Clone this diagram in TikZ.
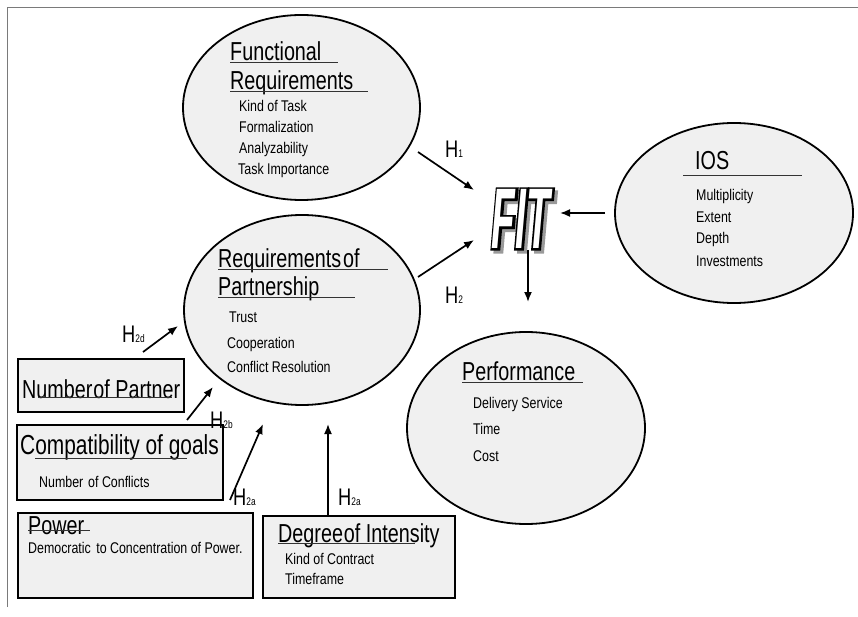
\documentclass[tikz,border=0pt]{standalone}
\usepackage{graphicx}
\usepackage{fontspec}
\setmainfont{Liberation Sans}[FakeStretch=0.8]
\newfontfamily\ttlfont{Liberation Sans}[FakeStretch=0.76]
\newfontfamily\fitfont{Liberation Sans}[FakeStretch=0.45]
\newfontfamily\fitboldfont{Liberation Sans}[FakeStretch=0.45,FakeBold=5]
\usetikzlibrary{arrows.meta,shapes.geometric,shadows}
\definecolor{fillgray}{HTML}{F0F0F0}
\definecolor{framegray}{HTML}{7A7A7A}
\definecolor{shadowgray}{HTML}{9A9A9A}
\newcommand{\hsub}[1]{{\fontsize{11}{11}\selectfont #1}}
\tikzset{
  ell/.style={ellipse, draw=black, line width=1.8pt, fill=fillgray, inner sep=0pt},
  boxst/.style={rectangle, draw=black, line width=1.7pt, fill=fillgray, inner sep=0pt,
    drop shadow={shadow xshift=1.3pt, shadow yshift=-1.3pt, fill=black!65, opacity=1}},
  ttl/.style={anchor=base west, inner sep=0pt, font=\ttlfont\fontsize{26}{26}\selectfont},
  itm/.style={anchor=base west, inner sep=0pt, font=\fontsize{15.5}{15.5}\selectfont},
  uline/.style={line width=0.9pt, draw=black!80},
  arr/.style={line width=1.7pt, -{Latex[length=10pt,width=8pt]}},
  hlab/.style={anchor=base west, inner sep=0pt, font=\ttlfont\fontsize{24}{24}\selectfont},
  fittext/.style={inner sep=0pt, font=\fitfont\bfseries\itshape\fontsize{86}{86}\selectfont},
  fitbold/.style={inner sep=0pt, font=\fitboldfont\bfseries\itshape\fontsize{86}{86}\selectfont}
}
\begin{document}
\begin{tikzpicture}[x=1pt,y=-1pt]
\useasboundingbox (0,0) rectangle (858,617);
% frame
\draw[framegray, line width=1pt] (7,607) -- (7,8) -- (858,8);

% ellipses
\node[ell, minimum width=237pt, minimum height=185pt] (fr) at (301.5,107.5) {};
\node[ell, minimum width=238pt, minimum height=180pt] (ios) at (734,213) {};
\node[ell, minimum width=236pt, minimum height=190pt] (rop) at (302,310) {};
\node[ell, minimum width=238pt, minimum height=192pt] (perf) at (526,428) {};

% boxes
\node[boxst, minimum width=166pt, minimum height=53pt] (np) at (101,385.5) {};
\node[boxst, minimum width=206pt, minimum height=75pt] (comp) at (120,462.5) {};
\node[boxst, minimum width=235pt, minimum height=85pt] (pow) at (135.5,555.5) {};
\node[boxst, minimum width=192pt, minimum height=82pt] (deg) at (359,557) {};

% Functional Requirements
\node[ttl] (frt1) at (230,61) {Functional};
\draw[uline] (230,62.5) -- (338,62.5);
\node[ttl] (frt2) at (230,89.5) {Requirements};
\draw[uline] (230,91.5) -- (368,91.5);
\node[itm] (fri1) at (239,112) {Kind of Task};
\node[itm] (fri2) at (239,133) {Formalization};
\node[itm] (fri3) at (239,154) {Analyzability};
\node[itm] (fri4) at (238,175) {Task Importance};

% IOS
\node[ttl] (iost) at (695,170) {IOS};
\draw[uline] (683,175) -- (802,175);
\node[itm] (iosi1) at (696,201) {Multiplicity};
\node[itm] (iosi2) at (696,223) {Extent};
\node[itm] (iosi3) at (696,244) {Depth};
\node[itm] (iosi4) at (696,267) {Investments};

% Requirements of Partnership
\node[ttl] (ropt1) at (218,267.5) {Requirements\kern2pt of};
\draw[uline] (218,269.5) -- (388,269.5);
\node[ttl] (ropt2) at (218,295.5) {Partnership};
\draw[uline] (218,297.5) -- (355,297.5);
\node[itm] (ropi1) at (229,322) {Trust};
\node[itm] (ropi2) at (227,348) {Cooperation};
\node[itm] (ropi3) at (227,372) {Conflict Resolution};

% Performance
\node[ttl] (perft) at (462,380) {Performance};
\draw[uline] (462,382) -- (583,382);
\node[itm] (perfi1) at (473,408) {Delivery Service};
\node[itm] (perfi2) at (473,434) {Time};
\node[itm] (perfi3) at (473,461) {Cost};

% Number of Partner
\node[ttl] (npt) at (22,398) {Number\kern1pt of Partner};
\draw[uline] (38,397.5) -- (172,397.5);

% Compatibility of goals
\node[ttl, font=\ttlfont\fontsize{27.5}{27.5}\selectfont] (compt) at (20,454) {Compatibility of goals};
\draw[uline] (35,458) -- (187,458);
\node[itm] (compi) at (39,487) {Number\kern1.5pt\ of Conflicts};

% Power
\node[ttl] (powt) at (28,534) {Power};
\draw[uline] (28,530) -- (90,530);
\node[itm] (powi) at (28,553) {Democratic\kern2pt\ to Concentration of Power.};

% Degree of Intensity
\node[ttl] (degt) at (278,542) {Degree\kern1pt of Intensity};
\draw[uline] (278,543.5) -- (415,543.5);
\node[itm] (degi1) at (285,564) {Kind of Contract};
\node[itm] (degi2) at (285,584) {Timeframe};

% FIT
\node[fitbold, text=shadowgray] (fits) at (524,222) {FIT};
\node[fitbold, text=black] (fito) at (521,219) {FIT};
\node[fittext, text=white] (fitw) at (521,219) {FIT};

% arrow coordinates
\coordinate (h1s) at (418,152); \coordinate (h1e) at (474,190);
\coordinate (h2s) at (418,277); \coordinate (h2e) at (474,240);
\coordinate (ioss) at (605,213); \coordinate (iose) at (560,213);
\coordinate (perfs) at (528,250); \coordinate (perfe) at (528,302);
\coordinate (h2ds) at (143,352); \coordinate (h2de) at (178,326);
\coordinate (h2bs) at (187,420); \coordinate (h2be) at (213,387);
\coordinate (h2as) at (230,500); \coordinate (h2ae) at (263,424);
\coordinate (h2cs) at (328,516); \coordinate (h2ce) at (328,424);

\draw[arr] (h1s) -- (h1e);
\draw[arr] (h2s) -- (h2e);
\draw[arr] (ioss) -- (iose);
\draw[arr] (perfs) -- (perfe);
\draw[arr] (h2ds) -- (h2de);
\draw[arr] (h2bs) -- (h2be);
\draw[arr] (h2as) -- (h2ae);
\draw[arr] (h2cs) -- (h2ce);

% H labels
\node[hlab] (lh1) at (445,158) {H\hsub{1}};
\node[hlab] (lh2) at (445,303) {H\hsub{2}};
\node[hlab] (lh2d) at (122,342) {H\hsub{2d}};
\node[hlab] (lh2b) at (210,428) {H\hsub{2b}};
\node[hlab] (lh2a) at (233,505) {H\hsub{2a}};
\node[hlab] (lh2c) at (338,505) {H\hsub{2a}};
\end{tikzpicture}
\end{document}
